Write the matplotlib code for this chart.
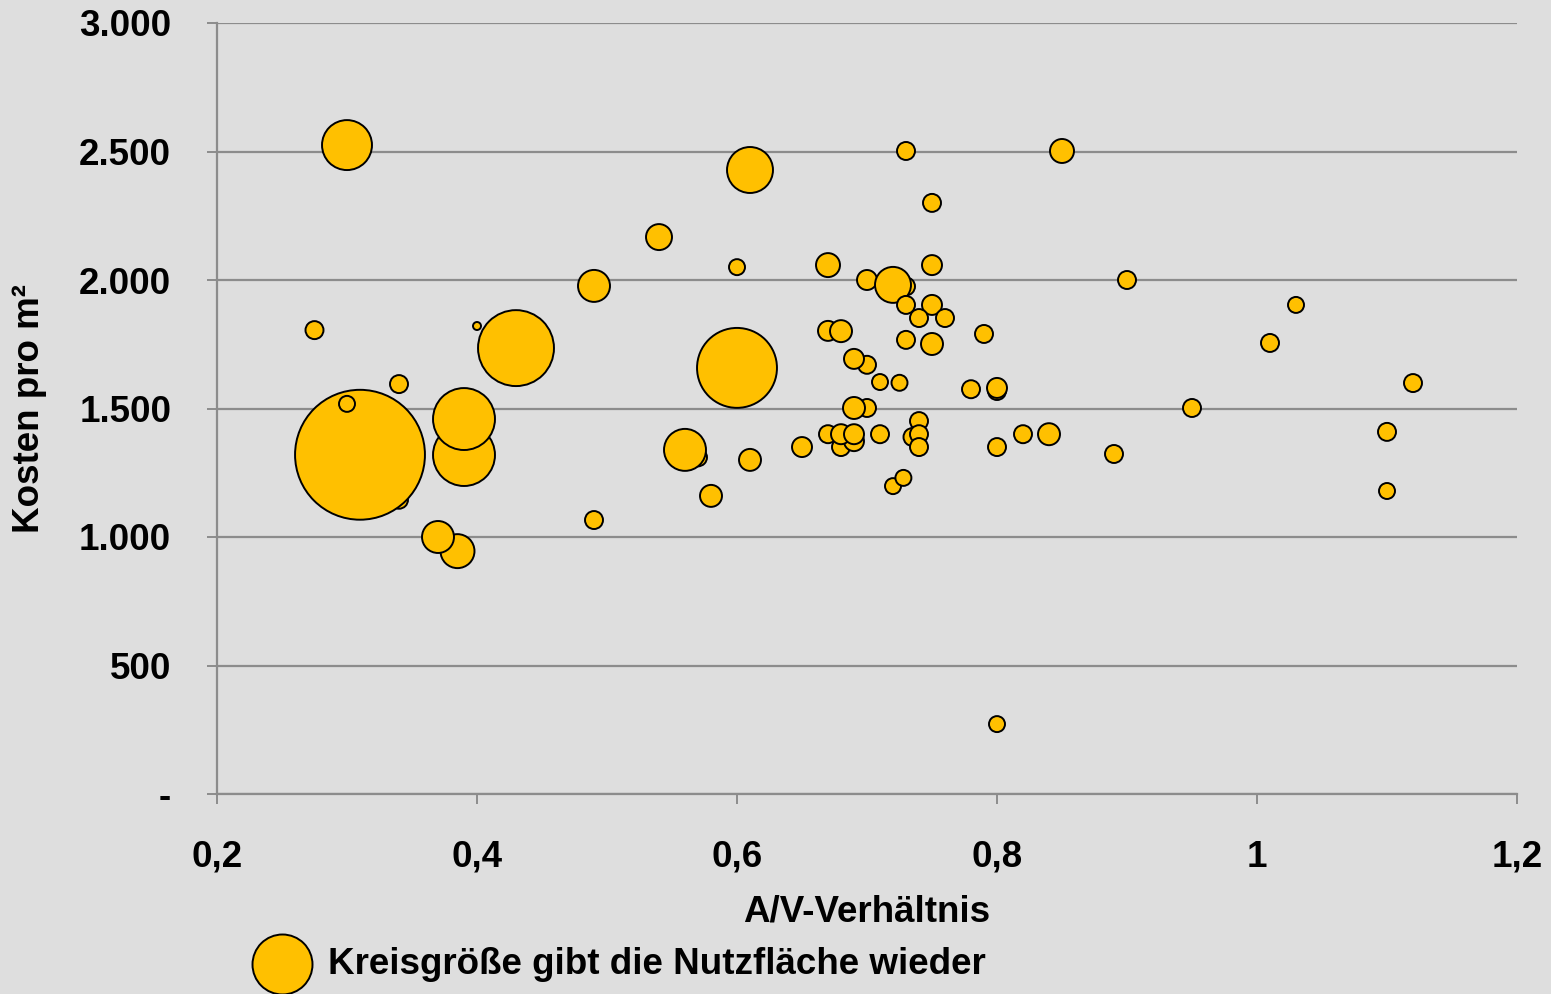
import matplotlib
matplotlib.use("Agg")
import matplotlib.pyplot as plt
from matplotlib.ticker import FuncFormatter

## data (A/V ratio, cost per m2, usable area in m2)
av = [0.34, 0.31, 0.30, 0.275, 0.30, 0.34, 0.40, 0.43, 0.39, 0.39,
      0.385, 0.37, 0.49, 0.49, 0.54, 0.61, 0.60, 0.60, 0.57, 0.56,
      0.58, 0.61, 0.65, 0.67, 0.67, 0.68, 0.70, 0.73, 0.72, 0.73,
      0.75, 0.75, 0.73, 0.75, 0.74, 0.76, 0.73, 0.75, 0.79, 0.70,
      0.69, 0.71, 0.725, 0.78, 0.80, 0.80, 0.70, 0.69, 0.74, 0.735,
      0.74, 0.74, 0.67, 0.68, 0.69, 0.68, 0.69, 0.71, 0.72, 0.728,
      0.80, 0.82, 0.84, 0.80, 0.85, 0.90, 0.89, 0.95, 1.01, 1.03,
      1.10, 1.10, 1.12]
kosten = [1145, 1320, 1518, 1805, 2525, 1595, 1821, 1735, 1319, 1459,
          945, 1000, 1977, 1066, 2167, 2428, 2050, 1658, 1310, 1339,
          1160, 1300, 1350, 2058, 1802, 1801, 2000, 1975, 1981, 2502,
          2300, 2058, 1903, 1903, 1852, 1852, 1767, 1751, 1790, 1670,
          1693, 1603, 1600, 1575, 1568, 1580, 1502, 1502, 1451, 1389,
          1400, 1350, 1400, 1350, 1373, 1400, 1400, 1400, 1198, 1230,
          1350, 1400, 1400, 272, 2502, 2000, 1323, 1502, 1755, 1903,
          1409, 1179, 1599]
flaeche = [2430, 126750, 1920, 2430, 18750, 2430, 480, 43320, 28830, 28830,
           8670, 7680, 7680, 2430, 5070, 15870, 1920, 48000, 2430, 13230,
           3630, 3630, 3000, 4320, 3000, 3630, 3000, 2430, 9720, 2430,
           2430, 3000, 2430, 3000, 2430, 2430, 2430, 3630, 2430, 2430,
           3000, 1920, 1920, 2430, 2430, 3000, 2430, 3630, 2430, 2430,
           2430, 2430, 2430, 2430, 3000, 3000, 3000, 2430, 1920, 1920,
           2430, 2430, 3630, 1920, 4320, 2430, 2430, 2430, 2430, 1920,
           2430, 1920, 2430]

yticks = [0, 500, 1000, 1500, 2000, 2500, 3000]
xticks = [0.2, 0.4, 0.6, 0.8, 1.0, 1.2]

bg = "#dedede"
gold = "#ffc000"
gray = "#8c8c8c"
fs = 26.5

plt.rcParams["font.family"] = ["Liberation Sans", "DejaVu Sans"]
plt.rcParams["font.weight"] = "bold"

fig = plt.figure(figsize=(15.51, 9.94), dpi=100, facecolor=bg)
ax = fig.add_axes([217 / 1551, 1 - 794 / 994, 1300 / 1551, 771 / 994])
ax.set_facecolor(bg)

sizes = [f * 0.069 for f in flaeche]
ax.scatter(av, kosten, s=sizes, c=gold, edgecolors="black", linewidths=1.4,
           zorder=3, clip_on=False)

ax.set_xlim(0.2, 1.2)
ax.set_ylim(0, 3000)
ax.set_xticks(xticks)
ax.set_yticks(yticks)

def fmt_y(v, pos):
    if v == 0:
        return "-"
    return f"{int(v):,}".replace(",", ".")

def fmt_x(v, pos):
    s = f"{v:.1f}".replace(".", ",")
    return "1" if s == "1,0" else s

ax.yaxis.set_major_formatter(FuncFormatter(fmt_y))
ax.xaxis.set_major_formatter(FuncFormatter(fmt_x))

ax.yaxis.grid(True, color=gray, linewidth=1.6, zorder=1)
ax.set_axisbelow(True)
for side in ["top", "right"]:
    ax.spines[side].set_visible(False)
for side in ["left", "bottom"]:
    ax.spines[side].set_color(gray)
    ax.spines[side].set_linewidth(1.6)

ax.tick_params(axis="both", direction="out", length=7, width=1.4, color=gray,
               labelsize=fs)
ax.tick_params(axis="y", pad=26)
ax.tick_params(axis="x", pad=26)

ax.set_xlabel("A/V-Verhältnis", fontsize=fs, fontweight="bold")
ax.xaxis.set_label_coords(0.5, (794 - 895) / 771)
ax.xaxis.label.set_va("top")
ax.set_ylabel("Kosten pro m²", fontsize=fs, fontweight="bold")
ax.yaxis.set_label_coords(-187 / 1300, 0.5)
ax.yaxis.label.set_va("center")

# legend bubble + note
ax.scatter([282 / 1551], [1 - 964 / 994], s=1866, c=gold, edgecolors="black",
           linewidths=1.4, transform=fig.transFigure, clip_on=False)
fig.text(328 / 1551, 1 - 965 / 994, "Kreisgröße gibt die Nutzfläche wieder",
         fontsize=fs, fontweight="bold", va="center", ha="left")

fig.savefig("out.png", dpi=100, facecolor=bg)
